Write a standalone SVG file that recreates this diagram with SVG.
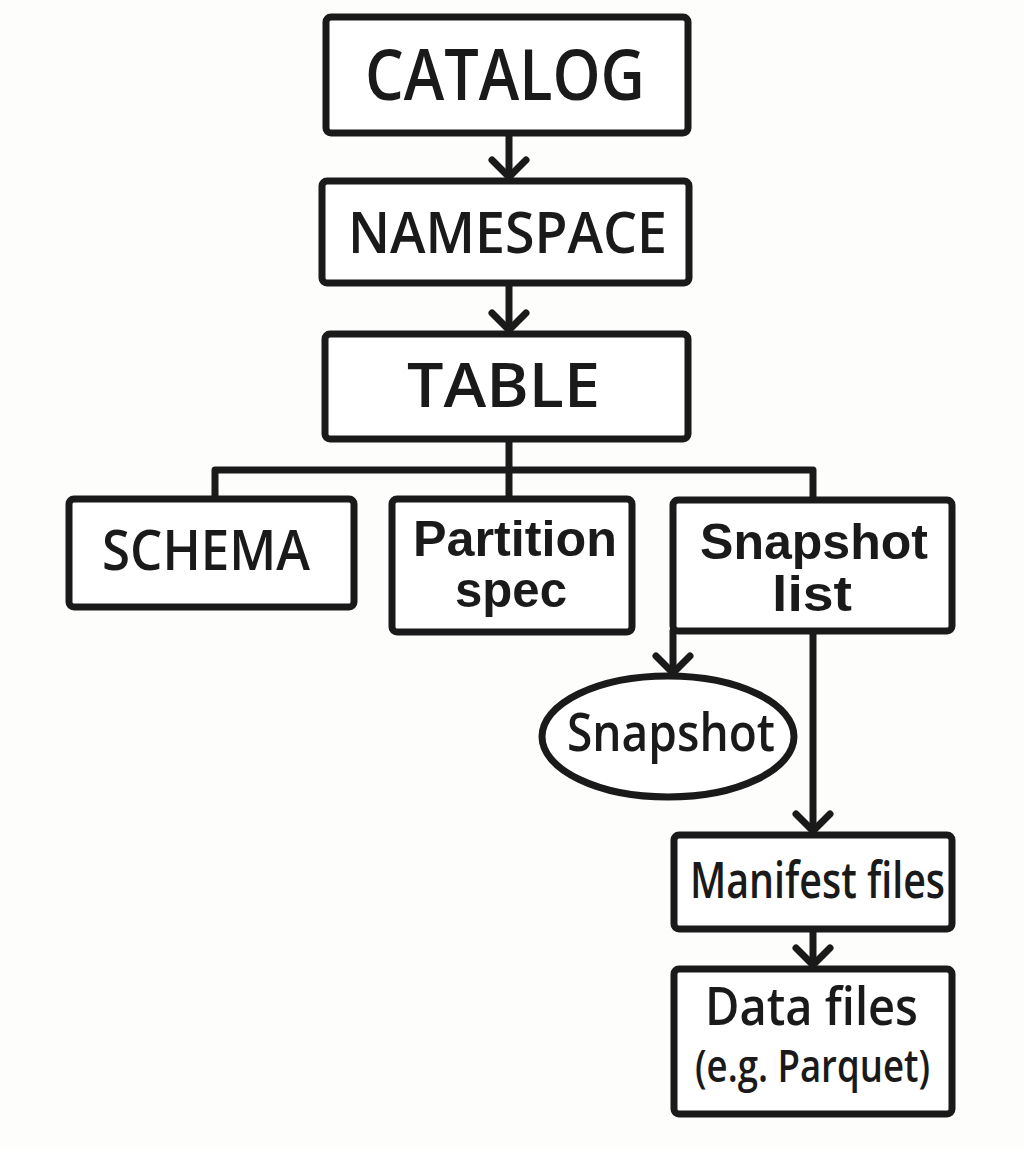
<svg xmlns="http://www.w3.org/2000/svg" width="1024" height="1149" viewBox="0 0 1024 1149">
<defs>
<style>
.box{fill:#ffffff;stroke:#1a1a1a;stroke-width:7;stroke-linejoin:round}
.conn{fill:none;stroke:#1a1a1a;stroke-width:7;stroke-linecap:round;stroke-linejoin:round}
.t{font-family:"Open Sans","Noto Sans","Liberation Sans",sans-serif;font-weight:600;fill:#1a1a1a;text-anchor:middle}
.t2{font-family:"Liberation Sans","Open Sans",sans-serif;font-weight:700;fill:#1a1a1a;text-anchor:middle}
</style>
<marker id="arr" markerUnits="userSpaceOnUse" viewBox="-24 -24 30 48" refX="0" refY="0" markerWidth="30" markerHeight="48" orient="auto" overflow="visible">
<path d="M-17,-17 L0,0 L-17,17" fill="none" stroke="#1a1a1a" stroke-width="7" stroke-linecap="round" stroke-linejoin="round"/>
</marker>
</defs>
<rect width="1024" height="1149" fill="#fdfdfc"/>
<g id="connectors">
<path class="conn" d="M509,133 V177" marker-end="url(#arr)"/>
<path class="conn" d="M509,283 V330" marker-end="url(#arr)"/>
<path class="conn" d="M509,439 V470"/>
<path class="conn" d="M215,499 V470 H813 V500"/>
<path class="conn" d="M509,470 V499"/>
<path class="conn" d="M673,631 V673" marker-end="url(#arr)"/>
<path class="conn" d="M813,631 V831" marker-end="url(#arr)"/>
<path class="conn" d="M813,929 V965" marker-end="url(#arr)"/>
</g>
<g id="catalog">
<rect class="box" x="326" y="17" width="362" height="116" rx="5"/>
<text class="t" x="505" y="100" font-size="70" textLength="280" lengthAdjust="spacingAndGlyphs">CATALOG</text>
</g>
<g id="namespace">
<rect class="box" x="322" y="181" width="367" height="102" rx="5"/>
<text class="t" x="507.5" y="253" font-size="57" textLength="319" lengthAdjust="spacingAndGlyphs">NAMESPACE</text>
</g>
<g id="table">
<rect class="box" x="325" y="334" width="363" height="105" rx="5"/>
<text class="t" x="503.5" y="407" font-size="62" textLength="193" lengthAdjust="spacingAndGlyphs">TABLE</text>
</g>
<g id="schema">
<rect class="box" x="69" y="499" width="285" height="108" rx="5"/>
<text class="t" x="206" y="570" font-size="56" textLength="208" lengthAdjust="spacingAndGlyphs">SCHEMA</text>
</g>
<g id="partition-spec">
<rect class="box" x="392" y="499" width="240" height="133" rx="5"/>
<text class="t2" font-size="50"><tspan x="515" y="556" textLength="204" lengthAdjust="spacingAndGlyphs">Partition</tspan><tspan x="511" y="607" textLength="112" lengthAdjust="spacingAndGlyphs">spec</tspan></text>
</g>
<g id="snapshot-list">
<rect class="box" x="673" y="500" width="279" height="131" rx="5"/>
<text class="t2" font-size="50"><tspan x="814" y="559" textLength="228" lengthAdjust="spacingAndGlyphs">Snapshot</tspan><tspan x="812" y="611" textLength="80" lengthAdjust="spacingAndGlyphs">list</tspan></text>
</g>
<g id="snapshot">
<ellipse class="box" cx="668" cy="736.5" rx="126" ry="60.5"/>
<text class="t" x="671" y="751" font-size="53" textLength="208" lengthAdjust="spacingAndGlyphs">Snapshot</text>
</g>
<g id="manifest-files">
<rect class="box" x="674" y="835" width="278" height="94" rx="5"/>
<text class="t" x="817.5" y="898" font-size="50" textLength="255" lengthAdjust="spacingAndGlyphs">Manifest files</text>
</g>
<g id="data-files">
<rect class="box" x="674" y="969" width="278" height="145" rx="5"/>
<text class="t" font-size="52"><tspan x="811.5" y="1025" textLength="213" lengthAdjust="spacingAndGlyphs">Data files</tspan><tspan x="812.5" y="1082" font-size="45" textLength="235" lengthAdjust="spacingAndGlyphs">(e.g. Parquet)</tspan></text>
</g>
</svg>
